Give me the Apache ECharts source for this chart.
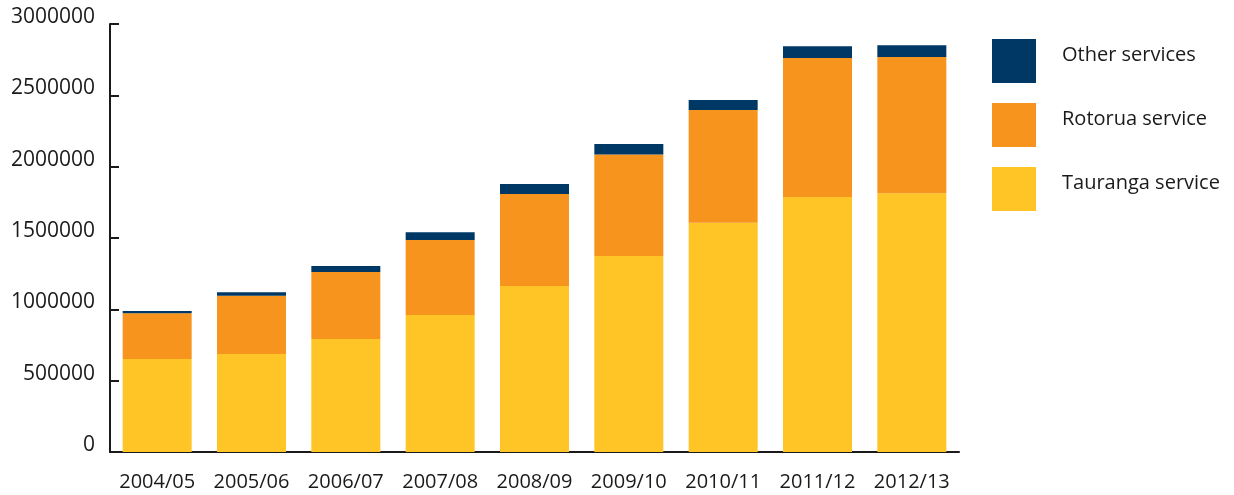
<!DOCTYPE html>
<html>
<head>
<meta charset="utf-8">
<script src="https://cdn.jsdelivr.net/npm/echarts@6/dist/echarts.min.js"></script>
<style>
  html, body { margin: 0; padding: 0; background: #fff; }
  #chart { width: 1234px; height: 495px; }
</style>
</head>
<body>
<div id="chart"></div>
<script>
// 年份
const years = ['2004/05', '2005/06', '2006/07', '2007/08', '2008/09', '2009/10', '2010/11', '2011/12', '2012/13']
// 各服务数据
const tauranga = [651000, 687000, 792000, 960000, 1163000, 1374000, 1607000, 1787000, 1813000]
const rotorua = [321000, 408000, 470000, 526000, 645000, 712000, 790000, 975000, 956000]
const other = [16000, 24000, 42000, 54000, 70000, 73000, 70000, 82000, 82000]
const yTicks = [0, 500000, 1000000, 1500000, 2000000, 2500000, 3000000]

const fontFamily = '"Open Sans", "Noto Sans", sans-serif'
const colors = { other: '#003865', rotorua: '#F7941E', tauranga: '#FFC425' }

let myChart = echarts.init(document.getElementById('chart'))

let option = {
  animation: false,
  textStyle: { fontFamily: fontFamily },
  grid: { left: 110, right: 275, top: 24, bottom: 43 },
  legend: {
    orient: 'vertical',
    left: 987,
    top: 34,
    itemWidth: 44,
    itemHeight: 44,
    itemGap: 20,
    icon: 'rect',
    data: ['Other services', 'Rotorua service', 'Tauranga service'],
    // 文字略高于色块中心
    formatter: (name) => name + '\n{gap|}',
    textStyle: {
      fontSize: 20,
      color: '#1a1a1a',
      padding: [0, 0, 0, 21],
      fontFamily: fontFamily,
      rich: { gap: { height: 12, lineHeight: 12 } },
    },
  },
  xAxis: {
    type: 'category',
    data: years,
    axisLine: { lineStyle: { color: '#1a1a1a', width: 2 } },
    axisTick: { inside: true, length: 10, lineStyle: { color: '#1a1a1a', width: 2 } },
    axisLabel: { fontSize: 20, color: '#1a1a1a', margin: 20, interval: 0 },
  },
  yAxis: {
    type: 'value',
    min: yTicks[0],
    max: yTicks[yTicks.length - 1],
    interval: 500000,
    splitLine: { show: false },
    axisLine: { show: true, lineStyle: { color: '#1a1a1a', width: 2 } },
    axisTick: { show: true, inside: true, length: 9, lineStyle: { color: '#1a1a1a', width: 2 } },
    axisLabel: {
      fontSize: 21,
      color: '#1a1a1a',
      margin: 15,
      verticalAlign: 'bottom',
      lineHeight: 14,
      formatter: (val) => String(val),
    },
  },
  series: [
    { name: 'Tauranga service', type: 'bar', stack: 'total', barWidth: 69, data: tauranga, itemStyle: { color: colors.tauranga } },
    { name: 'Rotorua service', type: 'bar', stack: 'total', data: rotorua, itemStyle: { color: colors.rotorua } },
    { name: 'Other services', type: 'bar', stack: 'total', data: other, itemStyle: { color: colors.other } },
  ],
}
myChart.setOption(option)
</script>
</body>
</html>
